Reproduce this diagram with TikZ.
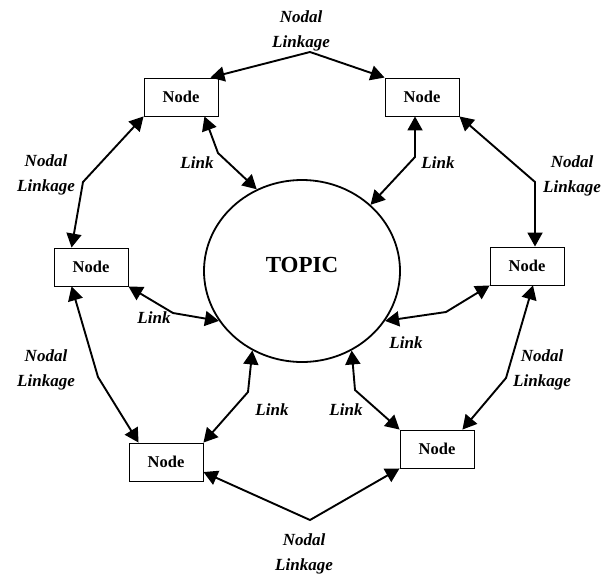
\documentclass[tikz,border=0pt]{standalone}
\usepackage{fontspec}
\setmainfont{Liberation Serif}
\usetikzlibrary{arrows.meta,shapes.geometric}

\begin{document}
\begin{tikzpicture}[x=1pt,y=-1pt,
                    >={Triangle[length=14pt,width=15pt]},
                    main node/.style={rectangle,draw,line width=0.9pt,minimum width=74pt,minimum height=38pt,inner sep=0pt,font=\fontsize{16.5}{18}\selectfont\bfseries},
                    topic node/.style={ellipse,draw,line width=1.8pt,minimum width=196pt,minimum height=182pt,inner sep=0pt,text depth=12pt,font=\fontsize{23}{26}\selectfont\bfseries},
                    tag/.style={align=center,inner sep=0pt,font=\fontsize{17}{25}\selectfont\bfseries\itshape},
                    link/.style={<->,line width=1.9pt}]

 \useasboundingbox (0,0) rectangle (607,573);

 \node[topic node] (topic) at (302,271) {TOPIC};

 \node[main node] (n1) at (181,97) {Node};
 \node[main node] (n2) at (422,97) {Node};
 \node[main node] (n3) at (91,267) {Node};
 \node[main node] (n4) at (527,266) {Node};
 \node[main node] (n5) at (166,462) {Node};
 \node[main node] (n6) at (437,449) {Node};

 % bends of the connectors
 \coordinate (b12) at (310,52);
 \coordinate (b13) at (83,182);
 \coordinate (b24) at (535,182);
 \coordinate (b35) at (98,377);
 \coordinate (b46) at (506,378);
 \coordinate (b56) at (310,520);
 \coordinate (bt1) at (218,153);
 \coordinate (bt2) at (415,157);
 \coordinate (bt3) at (173,313);
 \coordinate (bt4) at (446,312);
 \coordinate (bt5) at (248,392);
 \coordinate (bt6) at (355,390);

 % nodal linkages
 \draw[link] ([xshift=-8pt]n1.north east) -- (b12) -- (n2.north west);
 \draw[link] (n1.south west) -- (b13) -- ([xshift=18pt]n3.north west);
 \draw[link] (n2.south east) -- (b24) -- ([xshift=8pt]n4.north);
 \draw[link] ([xshift=18pt]n3.south west) -- (b35) -- ([xshift=10pt]n5.north west);
 \draw[link] ([xshift=6pt]n4.south) -- (b46) -- ([xshift=-12pt]n6.north east);
 \draw[link] (n5.-15) -- (b56) -- (n6.south west);

 % links to the topic
 \draw[link] ([xshift=-14pt]n1.south east) -- (bt1) -- (topic.119);
 \draw[link] ([xshift=-7pt]n2.south) -- (bt2) -- (topic.44);
 \draw[link] (n3.south east) -- (bt3) -- (topic.211);
 \draw[link] (n4.south west) -- (bt4) -- (topic.-31);
 \draw[link] (topic.238) -- (bt5) -- (n5.north east);
 \draw[link] (topic.-58) -- (bt6) -- (n6.north west);

 \node[tag] (t12) at (301,31) {Nodal\\Linkage};
 \node[tag] (t13) at (46,175) {Nodal\\Linkage};
 \node[tag] (t24) at (572,176) {Nodal\\Linkage};
 \node[tag] (t35) at (46,370) {Nodal\\Linkage};
 \node[tag] (t46) at (542,370) {Nodal\\Linkage};
 \node[tag] (t56) at (304,554) {Nodal\\Linkage};

 \node[tag] (l1) at (197,163) {Link};
 \node[tag] (l2) at (438,163) {Link};
 \node[tag] (l3) at (154,318) {Link};
 \node[tag] (l4) at (406,343) {Link};
 \node[tag] (l5) at (272,410) {Link};
 \node[tag] (l6) at (346,410) {Link};

\end{tikzpicture}
\end{document}
